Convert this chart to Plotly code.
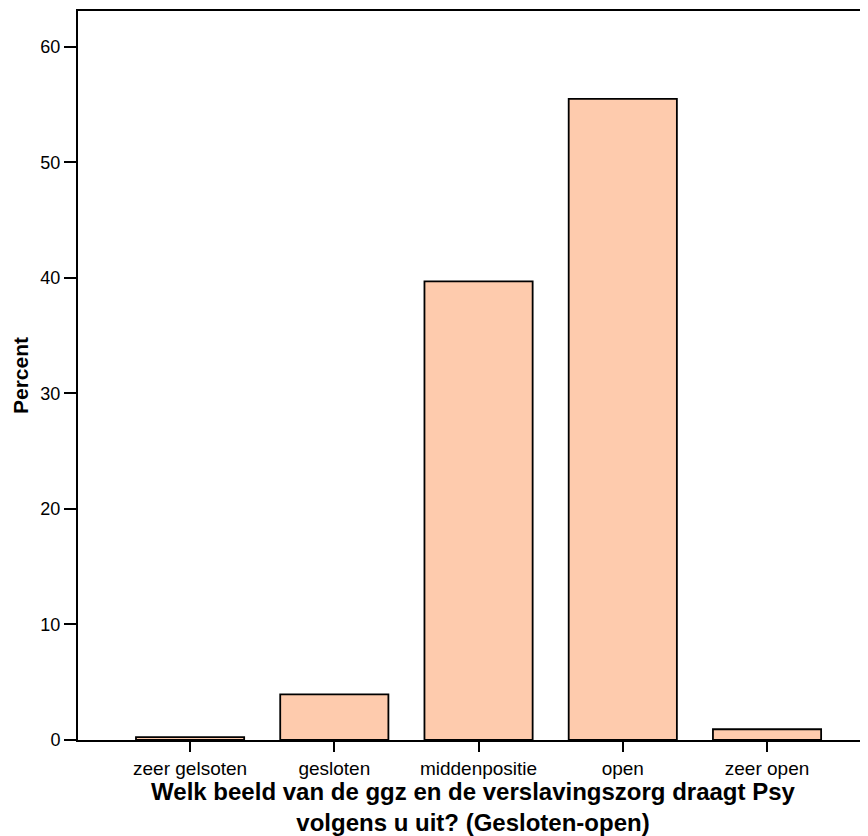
import plotly.graph_objects as go

categories = ["zeer gelsoten", "gesloten", "middenpositie", "open", "zeer open"]
percent = [0.25, 3.95, 39.7, 55.5, 0.93]
y_ticks = [0, 10, 20, 30, 40, 50, 60]

fig = go.Figure()
fig.add_trace(
    go.Bar(
        x=categories,
        y=percent,
        width=0.75,
        marker=dict(color="#fecbad", line=dict(color="black", width=1.8)),
    )
)

# de pagina heeft 8px body-marge, dus figuur iets kleiner
fig.update_layout(
    width=860,
    height=828,
    plot_bgcolor="white",
    paper_bgcolor="white",
    margin=dict(l=70, r=0, t=3, b=96),
    font=dict(family="Liberation Sans, Arial", color="black", size=18),
    showlegend=False,
)
fig.update_xaxes(
    range=[-0.777, 4.70],
    showline=True,
    linecolor="black",
    linewidth=2,
    mirror=True,
    ticks="outside",
    ticklen=10,
    tickwidth=2,
    tickcolor="black",
    showgrid=False,
    tickfont=dict(size=19),
    title=dict(
        text="<b>Welk beeld van de ggz en de verslavingszorg draagt Psy<br>volgens u uit? (Gesloten-open)</b>",
        font=dict(size=24),
        standoff=4,
    ),
)
fig.update_yaxes(
    range=[0, 63.1],
    tickvals=y_ticks,
    showline=True,
    linecolor="black",
    linewidth=2,
    ticks="outside",
    ticklen=12,
    tickwidth=2,
    tickcolor="black",
    showgrid=False,
    zeroline=False,
    tickfont=dict(size=18),
    title=dict(text="<b>Percent</b>", font=dict(size=21), standoff=6),
)

fig.write_html("out.html")
